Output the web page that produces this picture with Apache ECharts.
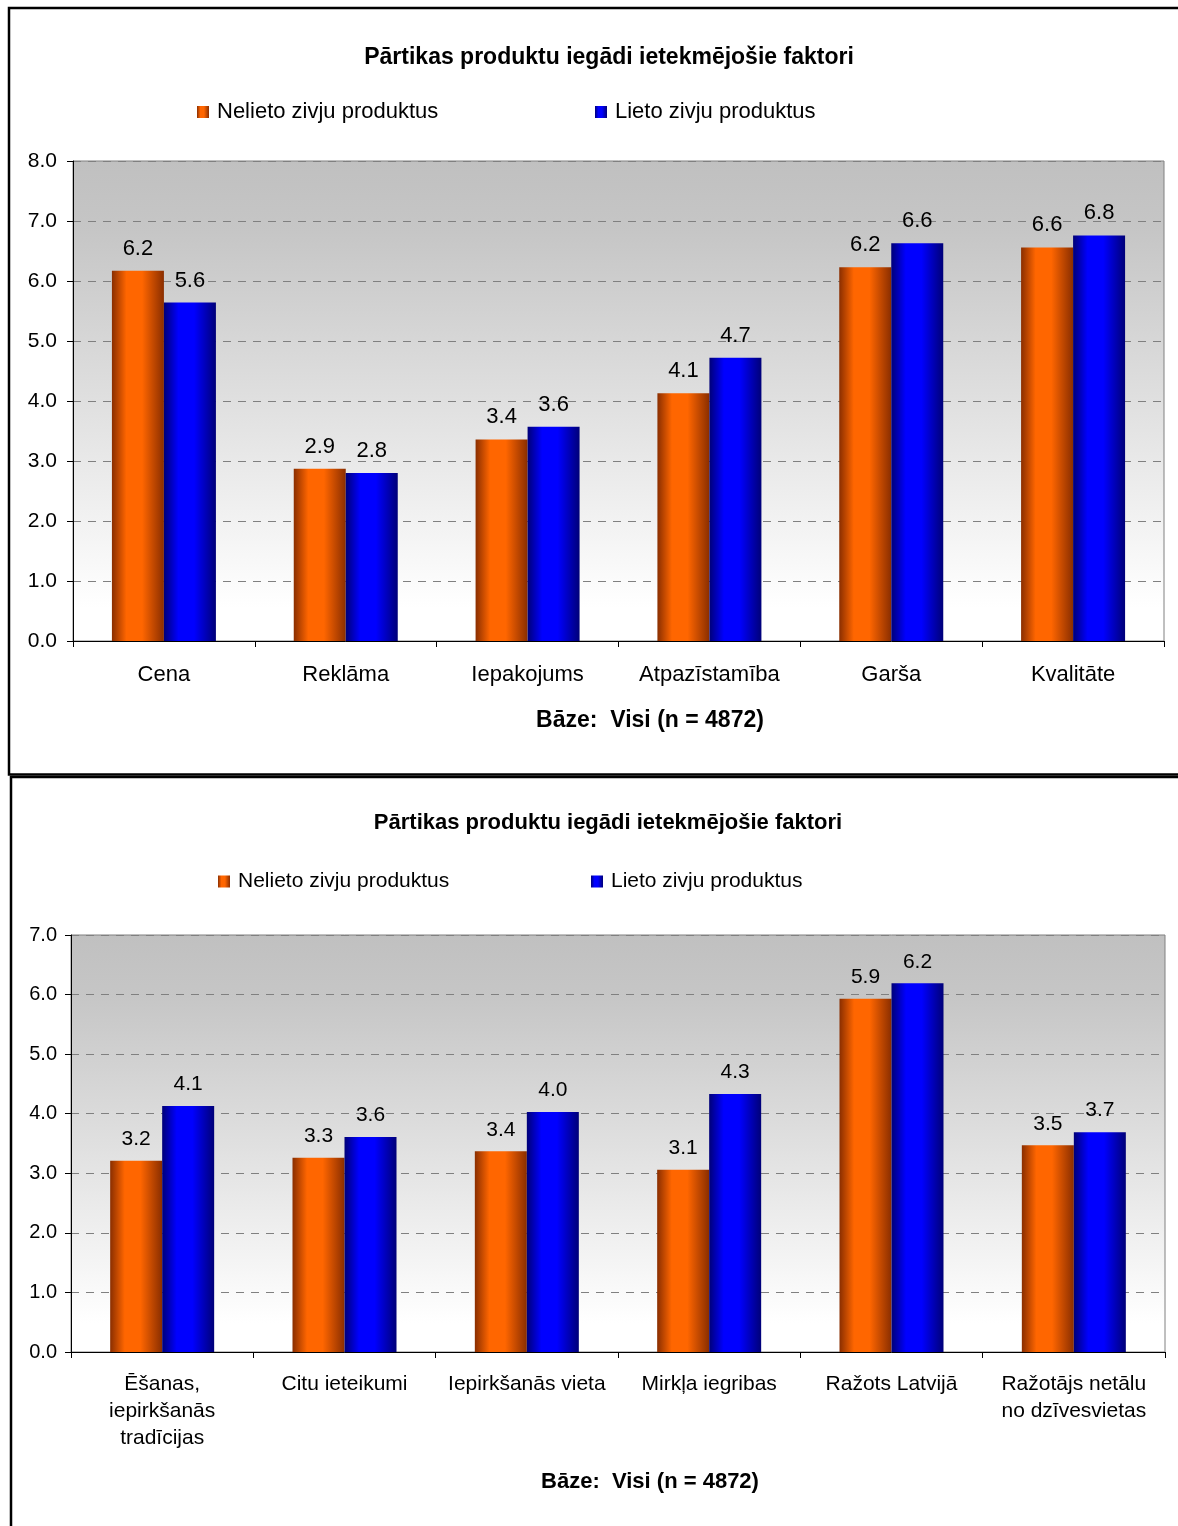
<!DOCTYPE html>
<html>
<head>
<meta charset="utf-8">
<script src="https://cdn.jsdelivr.net/npm/echarts@6/dist/echarts.min.js"></script>
<style>
html,body{margin:0;padding:0;background:#fff;overflow:hidden;}
#c{width:1178px;height:1526px;}
</style>
</head>
<body>
<div id="c"></div>
<script>
// ---- data ----
const titleText = 'Pārtikas produktu iegādi ietekmējošie faktori';
const baseText = 'Bāze:  Visi (n = 4872)';
const seriesNames = ['Nelieto zivju produktus', 'Lieto zivju produktus'];

const categories1 = ['Cena', 'Reklāma', 'Iepakojums', 'Atpazīstamība', 'Garša', 'Kvalitāte'];
const nelieto1 = [6.17, 2.87, 3.36, 4.13, 6.23, 6.56];
const lieto1 = [5.64, 2.80, 3.57, 4.72, 6.63, 6.76];
const yMax1 = 8;

const categories2 = ['Ēšanas,\niepirkšanās\ntradīcijas', 'Citu ieteikumi', 'Iepirkšanās vieta', 'Mirkļa iegribas', 'Ražots Latvijā', 'Ražotājs netālu\nno dzīvesvietas'];
const nelieto2 = [3.21, 3.26, 3.37, 3.06, 5.93, 3.47];
const lieto2 = [4.13, 3.61, 4.03, 4.33, 6.19, 3.69];
const yMax2 = 7;
const yInterval = 1;

// ---- styling ----
const FONT = 'Arial, "Liberation Sans", sans-serif';
const G = echarts.graphic.LinearGradient;
const orangeFill = new G(0, 0, 1, 0, [
  {offset: 0, color: '#8a2e00'}, {offset: 0.28, color: '#ff6600'},
  {offset: 0.58, color: '#ff6600'}, {offset: 1, color: '#8a2e00'}]);
const blueFill = new G(0, 0, 1, 0, [
  {offset: 0, color: '#000078'}, {offset: 0.28, color: '#0000ff'},
  {offset: 0.58, color: '#0000ff'}, {offset: 1, color: '#000078'}]);
const plotBg = () => new G(0, 0, 0, 1, [
  {offset: 0, color: '#c0c0c0'}, {offset: 0.15, color: '#c6c6c6'},
  {offset: 0.93, color: '#ffffff'}, {offset: 1, color: '#ffffff'}]);

function xAxisOf(idx, cats, margin, lh, fs) {
  return {
    type: 'category', gridIndex: idx, data: cats,
    axisLine: {lineStyle: {color: '#000', width: 1}},
    axisTick: {show: true, length: 6, lineStyle: {color: '#000'}},
    axisLabel: {color: '#000', fontSize: fs, fontFamily: FONT, margin: margin, interval: 0, lineHeight: lh}
  };
}
function yAxisOf(idx, max, margin, fs) {
  return {
    type: 'value', gridIndex: idx, min: 0, max: max, interval: yInterval,
    axisLine: {show: true, lineStyle: {color: '#000', width: 1}},
    axisTick: {show: true, length: 6, lineStyle: {color: '#000'}},
    axisLabel: {color: '#000', fontSize: fs, fontFamily: FONT, margin: margin,
      formatter: v => v.toFixed(1)},
    splitLine: {show: true, lineStyle: {color: '#808080', width: 1, type: [8, 7]}}
  };
}
function barSeries(name, data, idx, fill, fs) {
  return {
    type: 'bar', name: name, data: data, xAxisIndex: idx, yAxisIndex: idx,
    barWidth: 52, barGap: '0%',
    itemStyle: {color: fill},
    label: {show: true, position: 'top', distance: 11, color: '#000', fontSize: fs,
      fontFamily: FONT, formatter: p => p.value.toFixed(1)}
  };
}
function legendOf(name, left, top, fs) {
  return {
    data: [name], left: left, top: top, padding: 0, itemWidth: 12, itemHeight: 12,
    icon: 'rect', itemGap: 0,
    textStyle: {color: '#000', fontSize: fs, fontFamily: FONT, padding: [0, 0, 0, 3]}
  };
}
function textEl(text, x, y, size, bold) {
  return {type: 'text', style: {text: text, x: x, y: y, fill: '#000',
    font: (bold ? 'bold ' : '') + size + 'px ' + FONT, textAlign: 'center', textVerticalAlign: 'middle'}};
}

const chart = echarts.init(document.getElementById('c'), null, {renderer: 'canvas'});
chart.setOption({
  animation: false,
  backgroundColor: '#ffffff',
  textStyle: {fontFamily: FONT},
  grid: [
    {left: 73, top: 161, width: 1091, height: 480, show: true, backgroundColor: plotBg(),
      borderColor: '#808080', borderWidth: 1},
    {left: 71, top: 935, width: 1094, height: 417, show: true, backgroundColor: plotBg(),
      borderColor: '#808080', borderWidth: 1}
  ],
  xAxis: [xAxisOf(0, categories1, 23, 22, 22), xAxisOf(1, categories2, 19, 27, 21)],
  yAxis: [yAxisOf(0, yMax1, 16, 21), yAxisOf(1, yMax2, 14, 20)],
  legend: [
    legendOf(seriesNames[0], 197, 101, 22), legendOf(seriesNames[1], 595, 101, 22),
    legendOf(seriesNames[0], 218, 871, 21), legendOf(seriesNames[1], 591, 871, 21)
  ],
  series: [
    barSeries(seriesNames[0], nelieto1, 0, orangeFill, 22),
    barSeries(seriesNames[1], lieto1, 0, blueFill, 22),
    barSeries(seriesNames[0], nelieto2, 1, orangeFill, 21),
    barSeries(seriesNames[1], lieto2, 1, blueFill, 21)
  ],
  graphic: [
    {type: 'polyline', shape: {points: [[1190, 8], [9, 8], [9, 774.5], [1190, 774.5]]},
      style: {stroke: '#000', lineWidth: 2.5, fill: null}},
    {type: 'polyline', shape: {points: [[1190, 777], [11, 777], [11, 1540]]},
      style: {stroke: '#000', lineWidth: 2.5, fill: null}},
    textEl(titleText, 609, 58, 23, true),
    textEl(baseText, 650, 721, 23, true),
    textEl(titleText, 608, 823, 22, true),
    textEl(baseText, 650, 1482, 22, true)
  ]
});
</script>
</body>
</html>
